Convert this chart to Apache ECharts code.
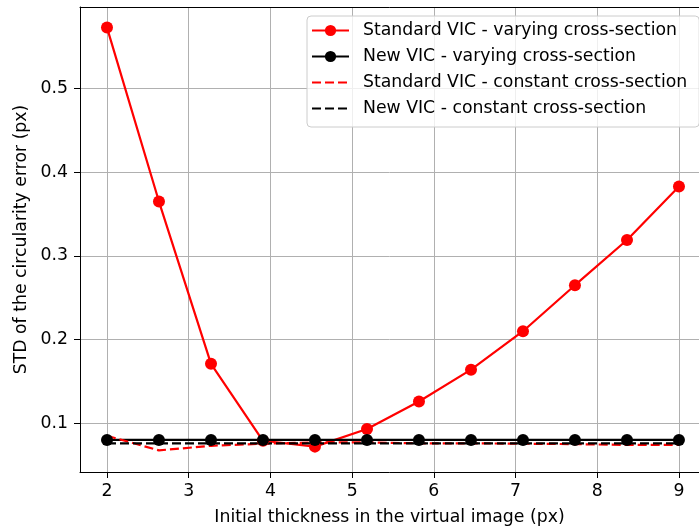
<!DOCTYPE html>
<html>
<head>
<meta charset="utf-8">
<script src="https://cdn.jsdelivr.net/npm/echarts@6/dist/echarts.min.js"></script>
<style>
  html, body { margin: 0; padding: 0; background: #fff; }
  #chart { width: 699px; height: 531px; }
</style>
</head>
<body>
<div id="chart"></div>
<script>
// initial thickness (px)
const thickness = [2, 2.636, 3.273, 3.909, 4.545, 5.182, 5.818, 6.455, 7.091, 7.727, 8.364, 9]

const stdVaryingStd = [0.573, 0.365, 0.171, 0.079, 0.072, 0.093, 0.126, 0.164, 0.210, 0.265, 0.319, 0.383]
const newVaryingStd = [0.080, 0.080, 0.080, 0.080, 0.080, 0.080, 0.080, 0.080, 0.080, 0.080, 0.080, 0.080]
const stdConstantStd = [0.085, 0.0675, 0.073, 0.0755, 0.077, 0.077, 0.076, 0.076, 0.0755, 0.075, 0.074, 0.074]
const newConstantStd = [0.076, 0.076, 0.076, 0.076, 0.076, 0.076, 0.076, 0.076, 0.076, 0.076, 0.076, 0.076]

const seriesNames = [
  'Standard VIC - varying cross-section',
  'New VIC - varying cross-section',
  'Standard VIC - constant cross-section',
  'New VIC - constant cross-section'
]

const pairs = ys => thickness.map((x, i) => [x, ys[i]])
const font = 'DejaVu Sans'
const fs = 17.3
const xMin = 1.6696, xMax = 9.2452
const yMin = 0.04167, yMax = 0.5976

const chart = echarts.init(document.getElementById('chart'))

function lineSeries(name, ys, color, dashed) {
  return {
    name,
    type: 'line',
    data: pairs(ys),
    symbol: dashed ? 'none' : 'circle',
    symbolSize: 12,
    showSymbol: !dashed,
    itemStyle: { color },
    lineStyle: { color, width: 2.2, type: dashed ? [9, 4] : 'solid' },
    animation: false
  }
}

chart.setOption({
  backgroundColor: '#fff',
  textStyle: { fontFamily: font },
  grid: { left: 80, top: 7, width: 619, height: 467 },
  legend: {
    orient: 'vertical',
    left: 307,
    top: 16,
    padding: [6, 12, 10, 4],
    itemWidth: 37,
    itemHeight: 14,
    itemGap: 9,
    backgroundColor: 'rgba(255,255,255,0.8)',
    borderColor: '#cccccc',
    borderWidth: 1,
    borderRadius: 4,
    textStyle: { fontFamily: font, fontSize: fs, color: '#000', padding: [0, 0, 0, 9] },
    data: [
      seriesNames[0],
      seriesNames[1],
      { name: seriesNames[2], itemStyle: { opacity: 0 } },
      { name: seriesNames[3], itemStyle: { opacity: 0 } }
    ]
  },
  xAxis: [{
    type: 'value',
    min: xMin,
    max: xMax,
    splitNumber: 8,
    name: 'Initial thickness in the virtual image (px)',
    nameLocation: 'middle',
    nameGap: 37,
    nameTextStyle: { fontFamily: font, fontSize: fs, color: '#000' },
    axisLine: { lineStyle: { color: '#000', width: 1 } },
    axisTick: { length: 6, lineStyle: { color: '#000' } },
    axisLabel: { fontFamily: font, fontSize: fs, color: '#000', margin: 11, showMinLabel: false, showMaxLabel: false },
    splitLine: { show: true, lineStyle: { color: '#b0b0b0', width: 1 } }
  }, {
    // top spine
    type: 'value',
    position: 'top',
    min: xMin,
    max: xMax,
    axisLine: { show: true, lineStyle: { color: '#000', width: 1 } },
    axisTick: { show: false },
    axisLabel: { show: false },
    splitLine: { show: false }
  }],
  yAxis: {
    type: 'value',
    min: yMin,
    max: yMax,
    splitNumber: 5,
    name: 'STD of the circularity error (px)',
    nameLocation: 'middle',
    nameGap: 46,
    nameTextStyle: { fontFamily: font, fontSize: fs, color: '#000' },
    axisLine: { show: true, lineStyle: { color: '#000', width: 1 } },
    axisTick: { show: true, length: 6, lineStyle: { color: '#000' } },
    axisLabel: { fontFamily: font, fontSize: fs, color: '#000', margin: 12, showMinLabel: false, showMaxLabel: false },
    splitLine: { show: true, lineStyle: { color: '#b0b0b0', width: 1 } }
  },
  series: [
    lineSeries(seriesNames[0], stdVaryingStd, '#ff0000', false),
    lineSeries(seriesNames[1], newVaryingStd, '#000000', false),
    lineSeries(seriesNames[2], stdConstantStd, '#ff0000', true),
    lineSeries(seriesNames[3], newConstantStd, '#000000', true)
  ]
})
</script>
</body>
</html>
